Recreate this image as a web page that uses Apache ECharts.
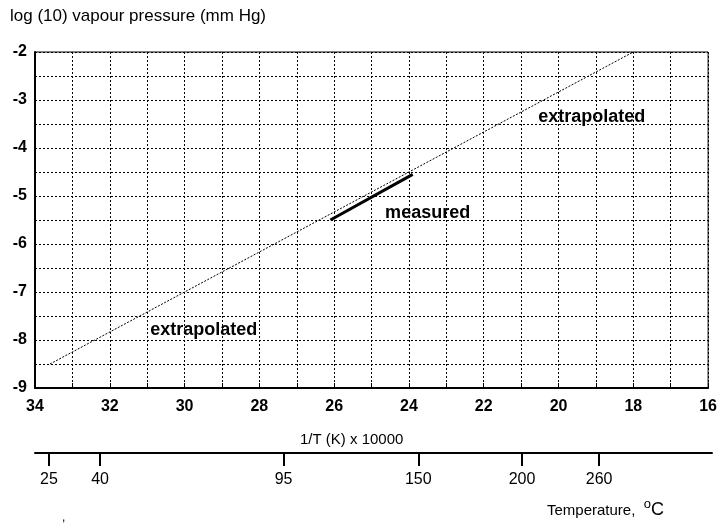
<!DOCTYPE html>
<html>
<head>
<meta charset="utf-8">
<script src="https://cdn.jsdelivr.net/npm/echarts@6/dist/echarts.min.js"></script>
<style>
  html, body { margin: 0; padding: 0; background: #fff; }
  #chart { width: 720px; height: 530px; }
</style>
</head>
<body>
<div id="chart"></div>
<script>
  // data
  var extrapolated = [[33.6, -8.5], [18, -2]]
  var measured = [[26.1, -5.5], [23.9, -4.55]]
  var noteNames = ['extrapolated', 'measured', 'extrapolated']
  var noteX = [29.49, 23.5, 19.11]
  var noteY = [-7.8, -5.35, -3.35]
  // temperature scale (deg C) and where each tick sits on the 1/T axis
  var tempLabels = [25, 40, 95, 150, 200, 260]
  var tempPos = [33.63, 32.27, 27.39, 23.81, 21.05, 19.0]

  var font = "'Liberation Sans', Arial, sans-serif"

  var chart = echarts.init(document.getElementById('chart'))

  chart.setOption({
    backgroundColor: '#fff',
    animation: false,
    textStyle: { fontFamily: font },
    grid: [
      { left: 35, right: 7, top: 52, height: 336, show: true, borderColor: '#000', borderWidth: 1 },
      { left: 35, right: 8, top: 452, height: 1 },
    ],
    xAxis: [
      {
        type: 'value',
        gridIndex: 0,
        min: 16,
        max: 34,
        interval: 1,
        inverse: true,
        axisLine: { show: true, lineStyle: { color: '#000', width: 2 } },
        axisTick: { show: true, inside: true, length: 5, lineStyle: { color: '#000' } },
        splitLine: { show: true, lineStyle: { color: '#000', type: [2, 2], width: 1 } },
        axisLabel: {
          color: '#000',
          fontSize: 16,
          fontWeight: 'bold',
          margin: 11,
          fontFamily: font,
          formatter: function (v) {
            return v % 2 === 0 ? String(v) : ''
          },
        },
      },
      {
        type: 'value',
        gridIndex: 1,
        min: 16,
        max: 34,
        inverse: true,
        axisLine: { show: true, onZero: false, lineStyle: { color: '#000', width: 2 } },
        axisTick: {
          show: true,
          length: 13,
          customValues: tempPos,
          lineStyle: { color: '#000', width: 2 },
        },
        splitLine: { show: false },
        axisLabel: {
          color: '#000',
          fontSize: 16,
          margin: 19,
          fontFamily: font,
          customValues: tempPos,
          formatter: function (v) {
            var best = 0
            for (var i = 0; i < tempPos.length; i++) {
              if (Math.abs(tempPos[i] - v) < Math.abs(tempPos[best] - v)) best = i
            }
            return String(tempLabels[best])
          },
        },
      },
    ],
    yAxis: [
      {
        type: 'value',
        gridIndex: 0,
        min: -9,
        max: -2,
        interval: 0.5,
        axisLine: { show: true, lineStyle: { color: '#000', width: 2 } },
        axisTick: { show: false },
        splitLine: { show: true, lineStyle: { color: '#000', type: [2, 2], width: 1 } },
        axisLabel: {
          color: '#000',
          fontSize: 16,
          fontWeight: 'bold',
          margin: 8,
          fontFamily: font,
          formatter: function (v) {
            return Number.isInteger(v) ? String(v) : ''
          },
        },
      },
      {
        type: 'value',
        gridIndex: 1,
        show: false,
        min: 0,
        max: 1,
      },
    ],
    series: [
      {
        name: 'extrapolated',
        type: 'line',
        xAxisIndex: 0,
        yAxisIndex: 0,
        data: extrapolated,
        symbol: 'none',
        lineStyle: { color: '#000', width: 1, type: [2, 1.5] },
        z: 3,
      },
      {
        name: 'measured',
        type: 'line',
        xAxisIndex: 0,
        yAxisIndex: 0,
        data: measured,
        symbol: 'none',
        lineStyle: { color: '#000', width: 3 },
        z: 4,
      },
      {
        name: 'notes',
        type: 'scatter',
        xAxisIndex: 0,
        yAxisIndex: 0,
        symbolSize: 0,
        itemStyle: { opacity: 1 },
        data: noteNames.map(function (n, i) {
          return { name: n, value: [noteX[i], noteY[i]] }
        }),
        label: {
          show: true,
          position: 'inside',
          formatter: '{b}',
          color: '#000',
          opacity: 1,
          fontSize: 18,
          fontWeight: 'bold',
          fontFamily: font,
        },
        z: 5,
      },
    ],
    graphic: [
      {
        type: 'text',
        left: 10,
        top: 8,
        style: { text: 'log (10) vapour pressure (mm Hg)', font: '17px ' + font, fill: '#000' },
      },
      {
        type: 'text',
        left: 300,
        top: 432,
        style: { text: '1/T (K) x 10000', font: '15px ' + font, fill: '#000' },
      },
      {
        type: 'text',
        left: 547,
        top: 498,
        style: {
          text: 'Temperature,  {sup|o}{c|C}',
          font: '15px ' + font,
          fill: '#000',
          rich: {
            sup: { fontSize: 13, verticalAlign: 'top', padding: [0, 0, 12, 0] },
            c: { fontSize: 18 },
          },
        },
      },
      {
        type: 'text',
        left: 62,
        top: 512,
        style: { text: ',', font: '12px ' + font, fill: '#000' },
      },
    ],
  })
</script>
</body>
</html>
